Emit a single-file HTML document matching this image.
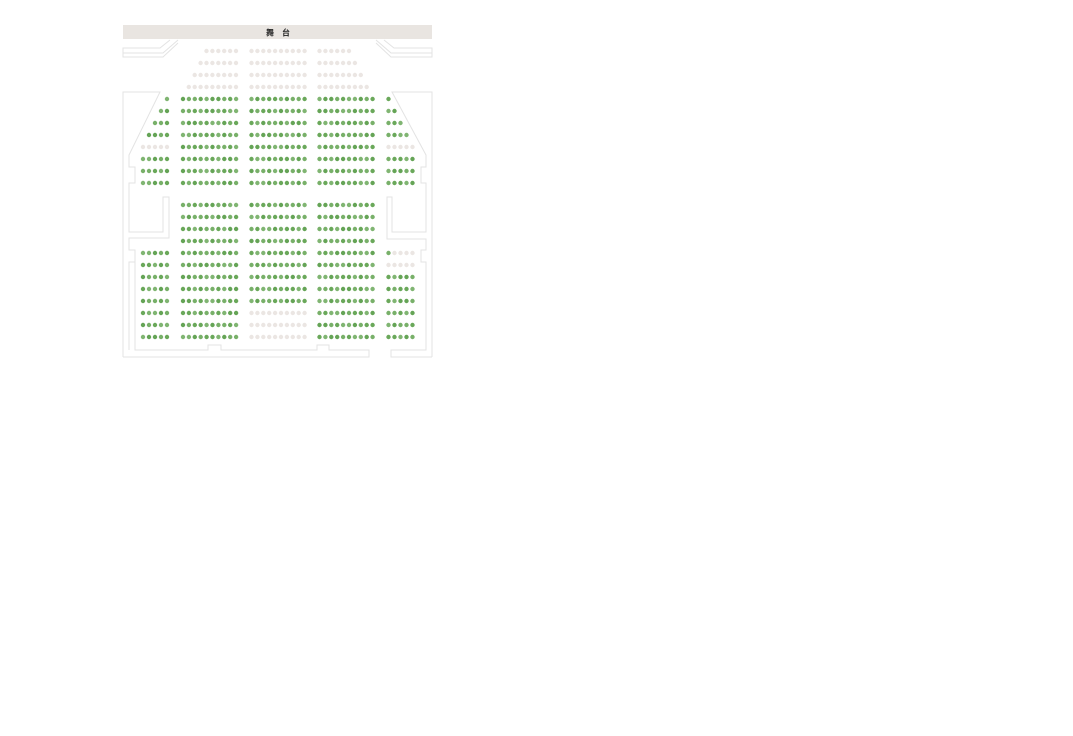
<!DOCTYPE html>
<html><head><meta charset="utf-8"><style>
html,body{margin:0;padding:0;background:#fff;width:1073px;height:736px;overflow:hidden}
svg{position:absolute;left:0;top:0}
</style></head><body>
<svg width="1073" height="736" viewBox="0 0 1073 736">
<rect x="123" y="25" width="309" height="14" fill="#e9e5e1"/>
<text x="278" y="35.5" text-anchor="middle" font-family="Liberation Sans,'Noto Sans CJK SC',sans-serif" font-size="8" font-weight="bold" fill="#222">舞　台</text>
<g fill="none" stroke="#e3e3e3" stroke-width="1">
<polyline points="178,40 163,53 123,53"/>
<polyline points="170,40 160,48 123,48 123,57 163,57 178,43"/>
<polyline points="376,40 391,53 432,53"/>
<polyline points="384,40 394,48 432,48 432,57 391,57 376,43"/>
<polyline points="123,357 123,92 160,92 129,155 129,167 135,167 135,183 129,183 129,232 163,232 163,197 169,197 169,238 129,238 129,250 135,250 135,262 129,262 129,350"/>
<polyline points="129,262 135,262 135,350 208,350 208,345 221,345 221,350 317,350 317,345 329,345 329,350 369,350 369,357 123,357"/>
<polyline points="432,357 432,92 392,92 426,155 426,167 421,167 421,183 426,183 426,232 392,232 392,197 387,197 387,239 426,239 426,250 421,250 421,262 426,262 426,350 391,350 391,357 432,357"/>
</g>
<g id="seats"></g>
</svg>
<script>
var g=document.getElementById('seats'),ns='http://www.w3.org/2000/svg';
var G=['#6aa85a','#78b069','#65a456','#80b572'],Y='#ebe6e3';
function d(x,y,c){var e=document.createElementNS(ns,'circle');e.setAttribute('cx',x);e.setAttribute('cy',y);e.setAttribute('r',2.2);e.setAttribute('fill',c);g.appendChild(e);}
var k=0;function gc(){k++;return G[(k*7+(k>>2))%4];}
function row(x0,n,y,pitch,col){for(var i=0;i<n;i++)d(x0+i*pitch,y,col==='g'?gc():(col||Y));}
var p=5.9;
var fr=[[6,51],[7,63],[8,75],[9,87]];
fr.forEach(function(r){var n=r[0],y=r[1];row(236-(n-1)*p,n,y,p,Y);row(251.5,10,y,p,Y);row(319.5,n,y,p,Y);});
var ys1=[99,111,123,135,147,159,171,183];
var fl=[1,2,3,4,5,5,5,5];
ys1.forEach(function(y,i){
 var n=fl[i];var c=(i==4)?Y:'g';
 row(167-(n-1)*6,n,y,6,c);
 row(183,10,y,p,'g');row(251.5,10,y,p,'g');row(319.5,10,y,p,'g');
 row(388.5,n,y,6,c);
});
[205,217,229,241].forEach(function(y){row(183,10,y,p,'g');row(251.5,10,y,p,'g');row(319.5,10,y,p,'g');});
var ys2=[253,265,277,289,301,313,325,337];
ys2.forEach(function(y,i){
 row(143,5,y,6,'g');row(183,10,y,p,'g');
 row(251.5,10,y,p,i>=5?Y:'g');row(319.5,10,y,p,'g');
 if(i==0){d(388.5,y,gc());row(394.5,4,y,6,Y);}
 else if(i==1)row(388.5,5,y,6,Y);
 else row(388.5,5,y,6,'g');
});
</script>
</body></html>
